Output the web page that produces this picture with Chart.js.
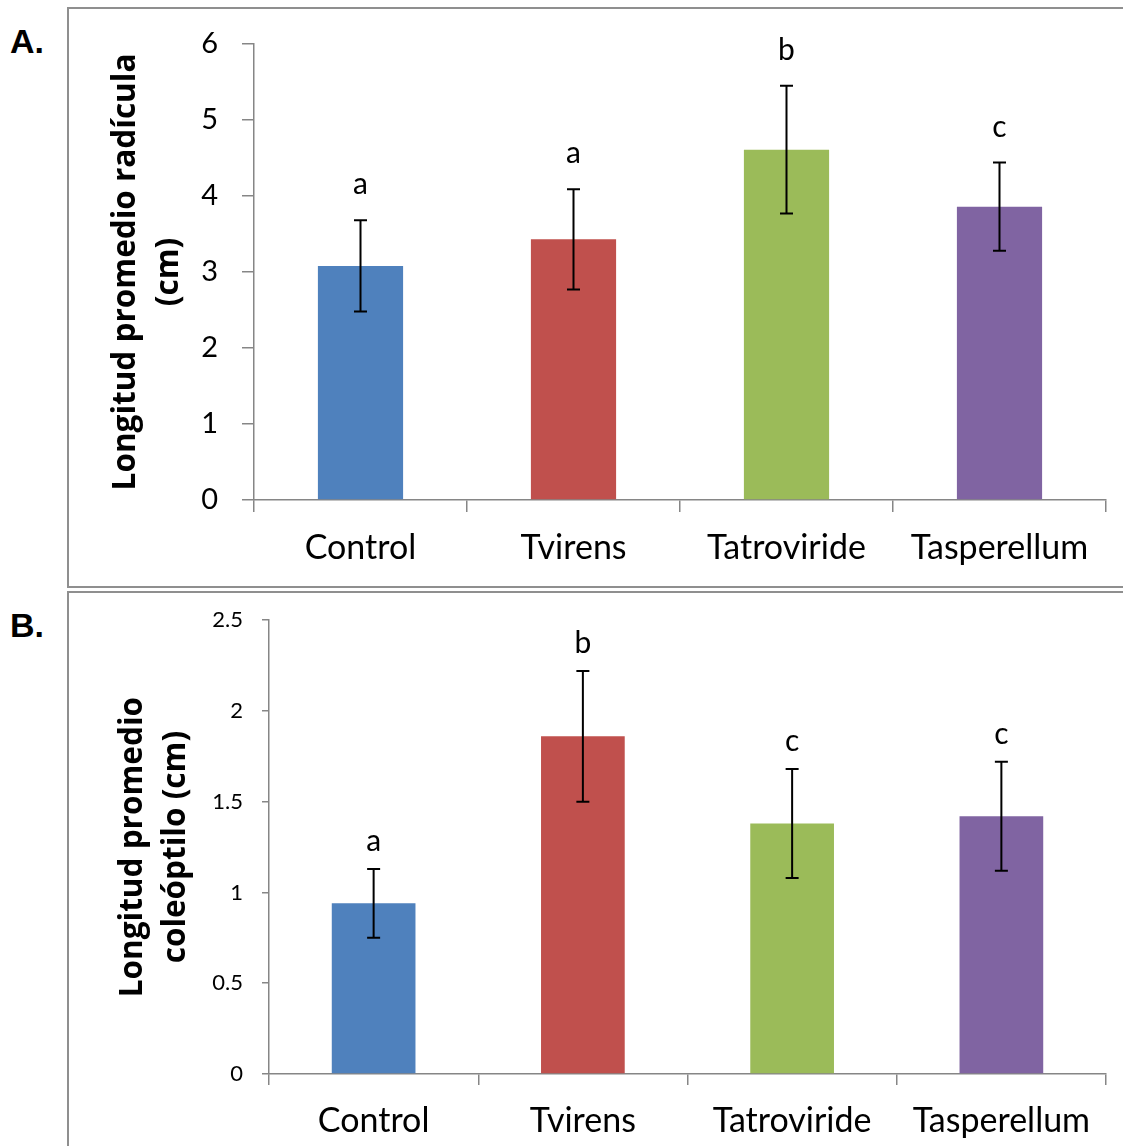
<!DOCTYPE html>
<html>
<head>
<meta charset="utf-8">
<script src="https://cdn.jsdelivr.net/npm/chart.js@4/dist/chart.umd.min.js"></script>
<style>
  html, body { margin: 0; padding: 0; background: #fff; }
  body { width: 1123px; height: 1146px; position: relative; overflow: hidden; }
  .box { position: absolute; border: 2px solid #8f8f8f; box-sizing: border-box; }
  #boxA { left: 67px; top: 7px; width: 1100px; height: 581px; }
  #boxB { left: 67px; top: 591px; width: 1100px; height: 600px; }
  .panel { position: absolute; left: 0; width: 1123px; }
  #wrapA { top: 0; height: 588px; }
  #wrapB { top: 588px; height: 558px; }
  .tag { position: absolute; left: 10px; font-family: "Liberation Sans", Arial, sans-serif; font-weight: bold; font-size: 34px; line-height: 1; color: #000; }
  #tagA { top: 24px; }
  #tagB { top: 608px; }
</style>
</head>
<body>
<div class="box" id="boxA"></div>
<div class="box" id="boxB"></div>
<div class="tag" id="tagA">A.</div>
<div class="tag" id="tagB">B.</div>
<div class="panel" id="wrapA"><canvas id="chartA"></canvas></div>
<div class="panel" id="wrapB"><canvas id="chartB"></canvas></div>
<script>
// ---- data ----
const categories = ['Control', 'Tvirens', 'Tatroviride', 'Tasperellum'];
const barColors = ['#4F81BD', '#C0504D', '#9BBB59', '#8064A2'];

const radiculaMeans = [3.08, 3.43, 4.61, 3.86];
const radiculaErrors = [0.60, 0.66, 0.84, 0.58];
const radiculaLetters = ['a', 'a', 'b', 'c'];
const radiculaTitle = ['Longitud promedio radícula', '(cm)'];

const coleoptiloMeans = [0.94, 1.86, 1.38, 1.42];
const coleoptiloErrors = [0.19, 0.36, 0.30, 0.30];
const coleoptiloLetters = ['a', 'b', 'c', 'c'];
const coleoptiloTitle = ['Longitud promedio', 'coleóptilo (cm)'];

const FONT = 'Lato, "Open Sans", sans-serif';
const TITLE_FONT = '"Open Sans", Lato, sans-serif';
const AXIS_COLOR = '#868686';

const errorBarPlugin = {
  id: 'errorBars',
  afterDatasetsDraw(chart, args, opts) {
    const ctx = chart.ctx;
    const meta = chart.getDatasetMeta(0);
    const yScale = chart.scales.y;
    const ds = chart.data.datasets[0];
    ctx.save();
    meta.data.forEach((bar, i) => {
      const v = ds.data[i];
      const e = opts.errors[i];
      const x = bar.x;
      const yTop = yScale.getPixelForValue(v + e);
      const yBot = yScale.getPixelForValue(v - e);
      ctx.strokeStyle = '#000';
      ctx.lineWidth = 2;
      ctx.beginPath();
      ctx.moveTo(x, yTop); ctx.lineTo(x, yBot);
      ctx.moveTo(x - 6.5, yTop); ctx.lineTo(x + 6.5, yTop);
      ctx.moveTo(x - 6.5, yBot); ctx.lineTo(x + 6.5, yBot);
      ctx.stroke();
      ctx.fillStyle = '#000';
      ctx.font = '30px ' + FONT;
      ctx.textAlign = 'center';
      ctx.textBaseline = 'alphabetic';
      ctx.fillText(opts.letters[i], x, yTop - opts.letterGap);
    });
    ctx.restore();
  }
};

function makeChart(id, cfg) {
  return new Chart(document.getElementById(id), {
    type: 'bar',
    data: {
      labels: categories,
      datasets: [{
        data: cfg.values,
        backgroundColor: barColors,
        borderWidth: 0,
        barPercentage: 0.4,
        categoryPercentage: 1.0
      }]
    },
    options: {
      responsive: true,
      maintainAspectRatio: false,
      animation: false,
      events: [],
      layout: { padding: { top: cfg.padTop, right: 17, bottom: 0, left: 0 } },
      plugins: {
        legend: { display: false },
        tooltip: { enabled: false },
        errorBars: { errors: cfg.errors, letters: cfg.letters, letterGap: cfg.letterGap }
      },
      scales: {
        x: {
          afterFit: (s) => { s.height = cfg.xHeight; },
          grid: { offset: true, drawOnChartArea: false, drawTicks: true, tickLength: cfg.xTickLen, color: AXIS_COLOR, lineWidth: 1.5 },
          border: { display: true, color: AXIS_COLOR, width: 1.5 },
          ticks: { color: '#000', font: { family: FONT, size: 34 }, padding: 16, maxRotation: 0 }
        },
        y: {
          min: 0,
          max: cfg.max,
          afterFit: (s) => { s.width = cfg.yWidth; },
          ticks: {
            stepSize: cfg.step, color: '#000', font: { family: FONT, size: cfg.yTickSize }, padding: cfg.yTickPad,
            callback: (v) => String(Number(v))
          },
          grid: { drawOnChartArea: false, drawTicks: true, tickLength: cfg.yTickLen, color: AXIS_COLOR, lineWidth: 1.5 },
          border: { display: true, color: AXIS_COLOR, width: 1.5 },
          title: {
            display: true,
            text: cfg.title,
            color: '#000',
            font: { family: TITLE_FONT, size: 31.5, weight: 'bold', lineHeight: 1.365 },
            padding: { top: cfg.titlePad, bottom: 0 }
          }
        }
      }
    },
    plugins: [errorBarPlugin]
  });
}

makeChart('chartA', {
  values: radiculaMeans, errors: radiculaErrors, letters: radiculaLetters, title: radiculaTitle,
  max: 6, step: 1, padTop: 44, xHeight: 88, yWidth: 254,
  xTickLen: 12, yTickLen: 12, yTickSize: 29, yTickPad: 24, titlePad: 105, letterGap: 26
});
makeChart('chartB', {
  values: coleoptiloMeans, errors: coleoptiloErrors, letters: coleoptiloLetters, title: coleoptiloTitle,
  max: 2.5, step: 0.5, padTop: 31, xHeight: 72, yWidth: 269,
  xTickLen: 11, yTickLen: 7, yTickSize: 22, yTickPad: 19, titlePad: 112, letterGap: 18
});
</script>
</body>
</html>
